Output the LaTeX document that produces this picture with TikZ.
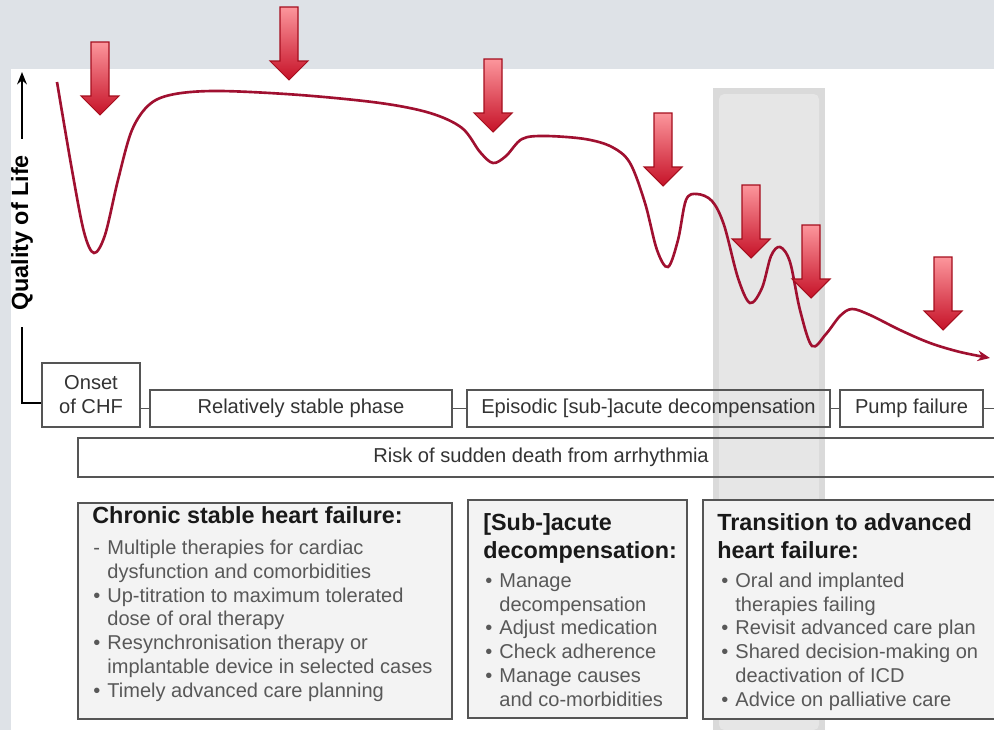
\documentclass[tikz,border=0pt]{standalone}
\usepackage{fontspec}
\setmainfont{Liberation Sans}
\usetikzlibrary{arrows.meta,positioning,calc}
\definecolor{slidegray}{RGB}{222,226,231}
\definecolor{bandgray}{RGB}{218,218,218}
\definecolor{bandlight}{RGB}{230,230,230}
\definecolor{qolred}{RGB}{160,16,48}
\definecolor{arrowtop}{RGB}{252,150,156}
\definecolor{arrowbot}{RGB}{198,18,40}
\definecolor{arrowline}{RGB}{165,14,30}
\definecolor{boxline}{RGB}{85,85,85}
\definecolor{itemgray}{RGB}{88,88,88}
\definecolor{infofill}{RGB}{243,243,243}
\newcommand{\bul}{\makebox[8pt][l]{\textbullet}}
\newcommand{\dsh}{\makebox[8pt][l]{-}}
\newcommand{\ind}{\hspace*{8pt}}
\tikzset{
  phasebox/.style={draw=boxline, line width=0.9pt, inner sep=0pt,
    font=\fontsize{11.45}{13.6}\selectfont, text=black!80, align=center},
  infobox/.style={draw=boxline, line width=1pt, fill=infofill, inner sep=0pt},
  infohead/.style={font=\fontsize{13.3}{15.9}\selectfont\bfseries, text=black!90,
    inner sep=0pt, align=left, anchor=base west},
  infoitem/.style={font=\fontsize{11.4}{13.5}\selectfont, text=itemgray,
    inner sep=0pt, align=left, anchor=base west},
  axisline/.style={line width=1.5pt, black},
  linkline/.style={line width=1pt, boxline},
  qolcurve/.style={line width=1.5pt, qolred},
  eventarrow/.style={draw=arrowline, line width=0.6pt, top color=arrowtop, bottom color=arrowbot}
}

\begin{document}
\begin{tikzpicture}[x=0.02cm, y=-0.02cm]
    \useasboundingbox (0,0) rectangle (994,730);
    % slide background
    \fill[slidegray] (0,0) rectangle (994,730);
    \fill[white] (11,69) rectangle (994,730);
    % highlighted transition band
    \fill[bandgray] (713,88) rectangle (825,730);
    \fill[bandlight, rounded corners=3pt] (719,94) rectangle (819,730);

    % Quality of life axis
    \node[font=\fontsize{13.3}{15.9}\selectfont\bfseries, rotate=90, inner xsep=9pt, inner ysep=0pt] (qol) at (22,233) {Quality of Life};
    \coordinate (axcorner) at (22,403);
    \coordinate (axtop) at (22,72);
    \draw[axisline, -{Stealth[length=7pt, width=5.5pt]}] (qol.east) -- (axtop);

    % trajectory of the disease
    \draw[qolcurve, -{Stealth[length=7pt, width=6pt]}] plot[smooth, tension=0.55] coordinates {
        (57,82) (72,170) (84,232) (94,253) (105,235) (118,180) (132,130) (150,104) (175,94)
        (220,91) (300,95) (380,103) (430,113) (462,128) (480,152) (493,163) (506,156)
        (522,139) (545,136) (585,139) (612,147) (630,163) (645,203) (657,250) (668,267)
        (678,240) (686,200) (697,194) (712,201) (724,225) (738,278) (750,303) (762,288)
        (771,256) (780,247) (790,262) (800,310) (812,346) (826,334) (840,316) (852,309)
        (870,315) (900,330) (930,343) (960,352) (990,358)};

    % events
    \foreach \ax/\ay in {100/42, 289/7, 493/59, 663/113, 751/185, 811/225, 943/257}
        \draw[eventarrow] (\ax-9,\ay) -- (\ax+9,\ay) -- (\ax+9,\ay+54) -- (\ax+19,\ay+54)
            -- (\ax,\ay+73) -- (\ax-19,\ay+54) -- (\ax-9,\ay+54) -- cycle;

    % phases
    \node[phasebox, minimum width=1.96cm, minimum height=1.28cm] (onset) at (91,395) {Onset\\of CHF};
    \node[phasebox, minimum width=6.04cm, minimum height=0.74cm] (stable) at (301,408.5) {Relatively stable phase};
    \node[phasebox, minimum width=7.26cm, minimum height=0.74cm] (episodic) at (648.5,408.5) {Episodic [sub-]acute decompensation};
    \node[phasebox, minimum width=2.86cm, minimum height=0.74cm] (pump) at (911.5,408.5) {Pump failure};
    \node[phasebox, minimum width=18.52cm, minimum height=0.78cm] (risk) at (541,457.5) {Risk of sudden death from arrhythmia};
    \coordinate (phaseend) at (994,408.5);
    \draw[axisline] (qol.west) -- (axcorner) -- (axcorner -| onset.west);
    \draw[linkline] (stable.west -| onset.east) -- (stable.west);
    \draw[linkline] (stable.east) -- (episodic.west);
    \draw[linkline] (episodic.east) -- (pump.west);
    \draw[linkline] (pump.east) -- (phaseend);

    % management in each stage (base = last line)
    \node[infobox, minimum width=7.48cm, minimum height=4.32cm] (chronic) at (265,611) {};
    \node[infohead] (chronichead) at (92,523) {Chronic stable heart failure:};
    \node[infoitem] (chronicitems) at (93,697) {\dsh Multiple therapies for cardiac\\
        \ind dysfunction and comorbidities\\
        \bul Up-titration to maximum tolerated\\
        \ind dose of oral therapy\\
        \bul Resynchronisation therapy or\\
        \ind implantable device in selected cases\\
        \bul Timely advanced care planning};

    \node[infobox, minimum width=4.38cm, minimum height=4.36cm] (subacute) at (577.5,609) {};
    \node[infohead] (subacutehead) at (483,558) {[Sub-]acute\\decompensation:};
    \node[infoitem] (subacuteitems) at (485,706) {\bul Manage\\
        \ind decompensation\\
        \bul Adjust medication\\
        \bul Check adherence\\
        \bul Manage causes\\
        \ind and co-morbidities};

    \node[infobox, minimum width=6.02cm, minimum height=4.38cm] (advanced) at (853.5,609.5) {};
    \node[infohead] (advancedhead) at (717,558) {Transition to advanced\\heart failure:};
    \node[infoitem] (advanceditems) at (721,706) {\bul Oral and implanted\\
        \ind therapies failing\\
        \bul Revisit advanced care plan\\
        \bul Shared decision-making on\\
        \ind deactivation of ICD\\
        \bul Advice on palliative care};
\end{tikzpicture}
\end{document}
